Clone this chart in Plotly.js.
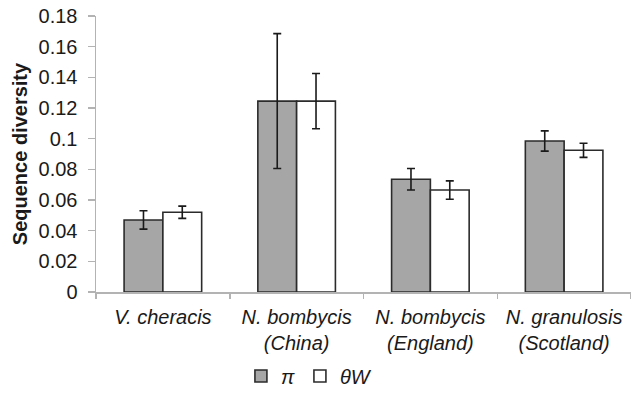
<!DOCTYPE html>
<html><head><meta charset="utf-8">
<script src="https://cdn.plot.ly/plotly-3.0.1.min.js"></script>
<style>html,body{margin:0;padding:0;background:#fff}#chart{width:631px;height:396px}</style>
</head><body><div id="chart"></div>
<script>
const categories = ["<i>V. cheracis</i>", "<i>N. bombycis<br>(China)</i>", "<i>N. bombycis<br>(England)</i>", "<i>N. granulosis<br>(Scotland)</i>"];
const piValues = [0.047, 0.1245, 0.0735, 0.0985];
const piErrors = [0.006, 0.044, 0.007, 0.0066];
const thetaValues = [0.052, 0.1245, 0.0665, 0.0924];
const thetaErrors = [0.004, 0.018, 0.006, 0.0046];
const yTickVals = [0, 0.02, 0.04, 0.06, 0.08, 0.1, 0.12, 0.14, 0.16, 0.18];
const yTickText = ["0", "0.02", "0.04", "0.06", "0.08", "0.1", "0.12", "0.14", "0.16", "0.18"];

const font = "Liberation Sans, Arial, sans-serif";
const err = (arr) => ({type: "data", array: arr, visible: true, color: "#1a1a1a", thickness: 1.6, width: 4});
const traces = [
  {type: "bar", name: "<i>π</i>", x: categories, y: piValues, error_y: err(piErrors),
   marker: {color: "#a6a6a6", line: {color: "#2b2b2b", width: 1.6}}},
  {type: "bar", name: "<i>θW</i>", x: categories, y: thetaValues, error_y: err(thetaErrors),
   marker: {color: "#ffffff", line: {color: "#2b2b2b", width: 1.6}}}
];
const layout = {
  width: 631, height: 396,
  margin: {l: 96, r: 0, t: 16, b: 104},
  paper_bgcolor: "#fff", plot_bgcolor: "#fff",
  font: {family: font, size: 20, color: "#1a1a1a"},
  barmode: "group", bargap: 0.42, bargroupgap: 0,
  showlegend: true,
  legend: {orientation: "h", x: 0.398, xanchor: "center", y: -0.375, yanchor: "bottom",
           font: {family: font, size: 20, color: "#1a1a1a"}, itemwidth: 30, traceorder: "normal"},
  xaxis: {showline: true, linecolor: "#b3b3b3", linewidth: 1.5, ticks: "outside", tickson: "boundaries",
          ticklen: 5, tickcolor: "#b3b3b3", tickwidth: 1.5, showgrid: false, zeroline: false,
          tickfont: {family: font, size: 20, color: "#1a1a1a"}, ticklabelstandoff: 6},
  yaxis: {range: [0, 0.18], tickvals: yTickVals, ticktext: yTickText, showline: true, linecolor: "#b3b3b3",
          linewidth: 1.5, ticks: "outside", ticklen: 7, tickcolor: "#b3b3b3", tickwidth: 1.5,
          showgrid: false, zeroline: false, tickfont: {family: font, size: 20, color: "#1a1a1a"}, ticklabelstandoff: 6,
          title: {text: "<b>Sequence diversity</b>", font: {family: font, size: 20, color: "#1a1a1a"}, standoff: 5}}
};
Plotly.newPlot("chart", traces, layout, {staticPlot: true, displayModeBar: false});
</script></body></html>
